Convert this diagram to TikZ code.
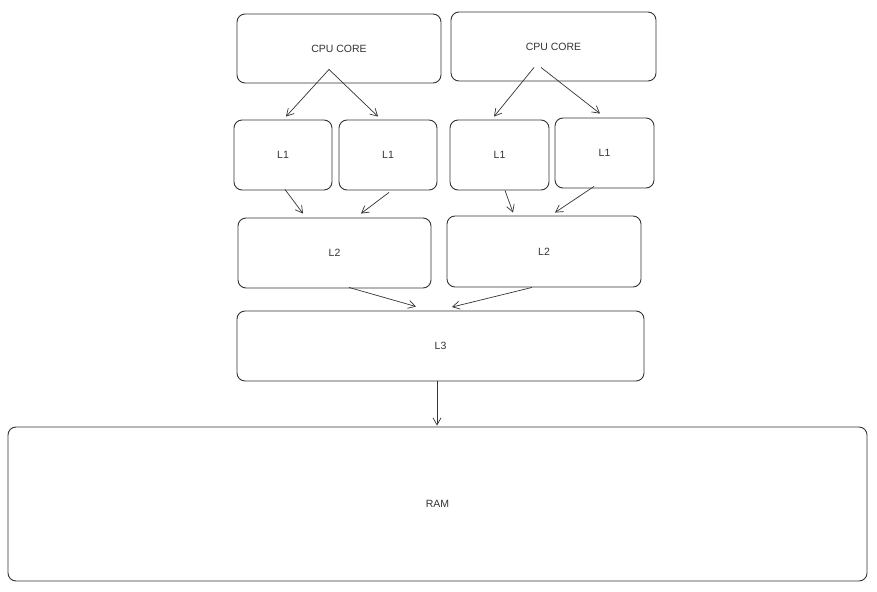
\documentclass[tikz,border=0pt]{standalone}
\usepackage{fontspec}
\setmainfont{Liberation Sans}
\usetikzlibrary{arrows.meta}
\definecolor{ink}{HTML}{333333}
\tikzset{
  box/.style={draw=ink, line width=0.9pt, rounded corners=8pt, inner sep=0pt,
    font=\fontsize{10.5}{12}\selectfont, text=ink},
  conn/.style={draw=ink, line width=0.7pt, -{Straight Barb[length=7pt,width=8pt,line width=0.7pt]}}
}
\begin{document}
\begin{tikzpicture}[x=1pt,y=-1pt]
\useasboundingbox (0,0) rectangle (877,591);
\node[box, minimum width=204pt, minimum height=69pt] (c1) at (339,48.5) {CPU CORE};
\node[box, minimum width=205pt, minimum height=69pt] (c2) at (553.5,46.5) {CPU CORE};
\node[box, minimum width=98pt, minimum height=70pt] (l1a) at (283,155) {L1};
\node[box, minimum width=98pt, minimum height=70pt] (l1b) at (388,155) {L1};
\node[box, minimum width=99pt, minimum height=70pt] (l1c) at (499.5,155) {L1};
\node[box, minimum width=99pt, minimum height=70pt] (l1d) at (604.5,153) {L1};
\node[box, minimum width=193pt, minimum height=70pt] (l2a) at (334.5,253) {L2};
\node[box, minimum width=194pt, minimum height=71pt] (l2b) at (544,251.5) {L2};
\node[box, minimum width=407pt, minimum height=70pt] (l3) at (440.5,346) {L3};
\node[box, minimum width=859pt, minimum height=154pt] (ram) at (437.5,504) {RAM};

\draw[conn] ([shift={(-10pt,14pt)}]c1.south) -- ([shift={(3pt,3pt)}]l1a.north);
\draw[conn] ([shift={(-10pt,14pt)}]c1.south) -- ([shift={(-10pt,3pt)}]l1b.north);
\draw[conn] ([shift={(-19.5pt,14pt)}]c2.south) -- ([shift={(-5.5pt,3pt)}]l1c.north);
\draw[conn] ([shift={(-12.5pt,14pt)}]c2.south) -- ([shift={(-4.5pt,4pt)}]l1d.north);
\draw[conn] ([shift={(2pt,1pt)}]l1a.south) -- ([shift={(-31.5pt,4pt)}]l2a.north);
\draw[conn] ([shift={(1pt,-2pt)}]l1b.south) -- ([shift={(26.5pt,4pt)}]l2a.north);
\draw[conn] ([shift={(5.5pt,0pt)}]l1c.south) -- ([shift={(-31pt,3pt)}]l2b.north);
\draw[conn] ([shift={(-10.5pt,2pt)}]l1d.south) -- ([shift={(11pt,3pt)}]l2b.north);
\draw[conn] ([shift={(14.5pt,1pt)}]l2a.south) -- ([shift={(-24.5pt,4pt)}]l3.north);
\draw[conn] ([shift={(-12pt,0pt)}]l2b.south) -- ([shift={(11.5pt,3.5pt)}]l3.north);
\draw[conn] ([shift={(-3.5pt,0pt)}]l3.south) -- ([shift={(-0.5pt,1pt)}]ram.north);
\end{tikzpicture}
\end{document}
